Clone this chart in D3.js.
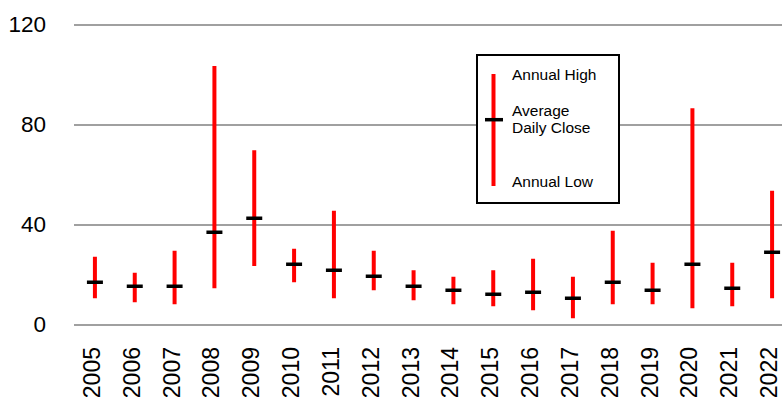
<!DOCTYPE html>
<html>
<head>
  <meta charset="utf-8">
</head>
<body>
  <style>
    body {
      margin: 0;
      background-color: #fff;
    }
    svg text {
      font-family: "Liberation Sans", Arial, sans-serif;
    }
  </style>
  <svg id='viz'></svg>

  <script src='https://d3js.org/d3.v7.min.js'></script>
  <script>
    var width = 782;
    var height = 401;

    var years = ["2005", "2006", "2007", "2008", "2009", "2010", "2011", "2012", "2013",
      "2014", "2015", "2016", "2017", "2018", "2019", "2020", "2021", "2022"];
    var annualHigh = [27.3, 20.9, 29.7, 103.6, 69.9, 30.5, 45.7, 29.7, 21.9,
      19.3, 21.9, 26.5, 19.3, 37.7, 24.9, 86.7, 24.9, 53.7];
    var annualLow = [10.7, 9.1, 8.3, 14.7, 23.6, 17.1, 10.7, 13.9, 9.9,
      8.3, 7.5, 5.9, 2.7, 8.3, 8.3, 6.7, 7.5, 10.7];
    var avgClose = [17.1, 15.5, 15.5, 37.1, 42.7, 24.3, 21.9, 19.5, 15.5,
      13.9, 12.3, 13.1, 10.7, 17.1, 13.9, 24.3, 14.7, 29.1];
    var yTicks = [0, 40, 80, 120];
    var legendLabels = ["Annual High", "Average", "Daily Close", "Annual Low"];

    var svg = d3.select("#viz").attr("width", width).attr("height", height);

    // plot runs past the right edge of the window, like the source
    var x = d3.scaleBand().domain(years).range([75, 792]);
    var y = d3.scaleLinear().domain([0, 120]).range([325, 25]);

    // gridlines
    svg.append("g").selectAll("line")
      .data(yTicks)
      .enter()
      .append("line")
      .attr("x1", 74)
      .attr("x2", width)
      .attr("y1", function(d) { return y(d); })
      .attr("y2", function(d) { return y(d); })
      .attr("stroke", "#a0a0a0")
      .attr("stroke-width", 2);

    // y labels
    svg.append("g").selectAll("text")
      .data(yTicks)
      .enter()
      .append("text")
      .attr("x", 46)
      .attr("y", function(d) { return y(d) + 7; })
      .attr("text-anchor", "end")
      .style("font-size", "22.5px")
      .text(function(d) { return d; });

    // x labels, rotated
    svg.append("g").selectAll("text")
      .data(years)
      .enter()
      .append("text")
      .attr("transform", function(d) {
        return "translate(" + (x(d) + x.bandwidth() / 2 + 5) + ",347) rotate(-90)";
      })
      .attr("text-anchor", "end")
      .style("font-size", "23px")
      .text(function(d) { return d; });

    var cx = function(i) { return x(years[i]) + x.bandwidth() / 2; };

    // high-low bars
    svg.append("g").selectAll("line")
      .data(years)
      .enter()
      .append("line")
      .attr("x1", function(d, i) { return cx(i); })
      .attr("x2", function(d, i) { return cx(i); })
      .attr("y1", function(d, i) { return y(annualHigh[i]); })
      .attr("y2", function(d, i) { return y(annualLow[i]); })
      .attr("stroke", "#ff0000")
      .attr("stroke-width", 4);

    // average close ticks
    svg.append("g").selectAll("line")
      .data(years)
      .enter()
      .append("line")
      .attr("x1", function(d, i) { return cx(i) - 8; })
      .attr("x2", function(d, i) { return cx(i) + 8; })
      .attr("y1", function(d, i) { return y(avgClose[i]); })
      .attr("y2", function(d, i) { return y(avgClose[i]); })
      .attr("stroke", "#000")
      .attr("stroke-width", 3.5);

    // legend
    var legend = svg.append("g");
    legend.append("rect")
      .attr("x", 477)
      .attr("y", 55)
      .attr("width", 142)
      .attr("height", 148)
      .attr("fill", "#fff")
      .attr("stroke", "#000")
      .attr("stroke-width", 2);
    legend.append("line")
      .attr("x1", 493.5).attr("x2", 493.5)
      .attr("y1", 74).attr("y2", 186)
      .attr("stroke", "#ff0000")
      .attr("stroke-width", 4);
    legend.append("line")
      .attr("x1", 485).attr("x2", 503)
      .attr("y1", 119.7).attr("y2", 119.7)
      .attr("stroke", "#000")
      .attr("stroke-width", 3.5);
    var legendY = [79.5, 115.5, 133, 187];
    legend.selectAll("text")
      .data(legendLabels)
      .enter()
      .append("text")
      .attr("x", 512)
      .attr("y", function(d, i) { return legendY[i]; })
      .style("font-size", "15.5px")
      .text(function(d) { return d; });
  </script>
</body>
</html>
